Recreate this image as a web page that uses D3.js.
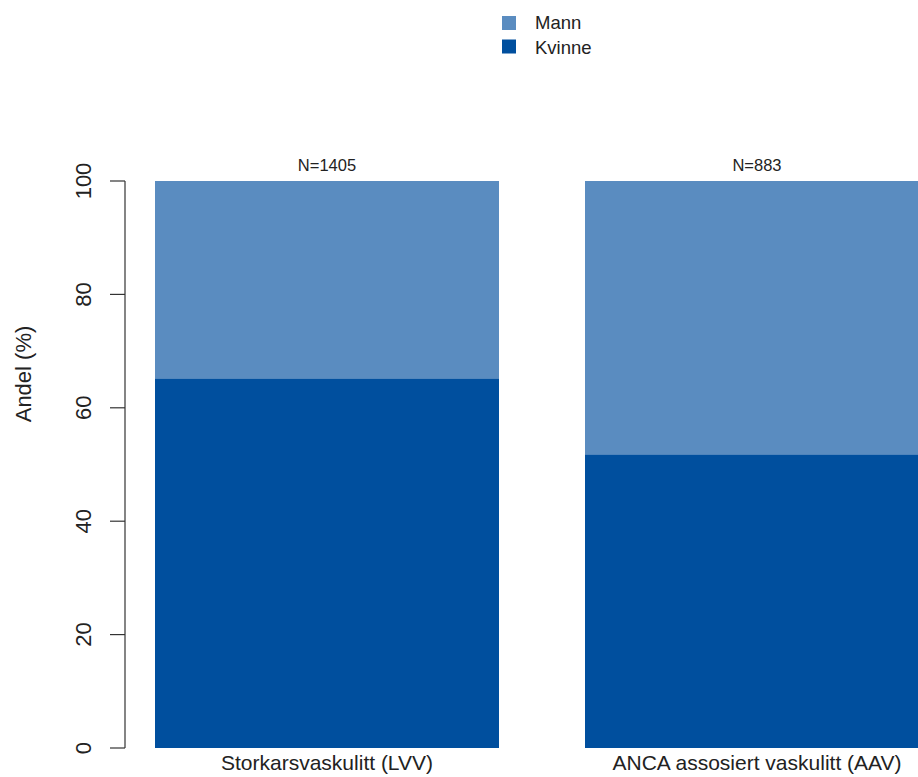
<!DOCTYPE html>
<html><head><meta charset="utf-8">
<script src="https://cdn.jsdelivr.net/npm/d3@7/dist/d3.min.js"></script>
<style>body{margin:0;background:#fff}svg{display:block;font-family:"Liberation Sans",Arial,sans-serif}</style>
</head><body>
<svg id="c" width="918" height="777"></svg>
<script>
const categories = ["Storkarsvaskulitt (LVV)", "ANCA assosiert vaskulitt (AAV)"];
const nLabels = ["N=1405", "N=883"];
const kvinne = [65.2, 51.8];
const mann = [34.8, 48.2];
const seriesNames = ["Mann", "Kvinne"];
const yTicks = [0, 20, 40, 60, 80, 100];
const colors = {Mann: "#5A8CC0", Kvinne: "#004F9E"};

const svg = d3.select("#c");
const y = d3.scaleLinear().domain([0, 100]).range([748, 181]);
const x = d3.scaleBand().domain(categories).range([155, 929]).paddingInner(0.2).paddingOuter(0);

const data = categories.map((c, i) => ({c, k: kvinne[i], m: mann[i], n: nLabels[i]}));

// bars
data.forEach(d => {
  svg.append("rect").attr("x", x(d.c)).attr("width", x.bandwidth())
    .attr("y", y(d.k)).attr("height", y(0) - y(d.k)).attr("fill", colors.Kvinne);
  svg.append("rect").attr("x", x(d.c)).attr("width", x.bandwidth())
    .attr("y", y(d.k + d.m)).attr("height", y(d.k) - y(d.k + d.m)).attr("fill", colors.Mann);
  svg.append("text").attr("x", x(d.c) + x.bandwidth() / 2).attr("y", 171)
    .attr("text-anchor", "middle").attr("font-size", 16.5).attr("fill", "#222").text(d.n);
  svg.append("text").attr("x", x(d.c) + x.bandwidth() / 2).attr("y", 770)
    .attr("text-anchor", "middle").attr("font-size", 21).attr("fill", "#222").text(d.c);
});

// y axis
const ax = svg.append("g").attr("transform", "translate(125,0)");
ax.append("line").attr("x1", 0).attr("x2", 0).attr("y1", y(0)).attr("y2", y(100)).attr("stroke", "#333").attr("stroke-width", 1.2);
yTicks.forEach(t => {
  ax.append("line").attr("x1", -15).attr("x2", 0).attr("y1", y(t)).attr("y2", y(t)).attr("stroke", "#333").attr("stroke-width", 1.2);
  ax.append("text").attr("transform", `translate(-34,${y(t)}) rotate(-90)`)
    .attr("text-anchor", "middle").attr("font-size", 22).attr("fill", "#222").text(t);
});
svg.append("text").attr("transform", "translate(31,374) rotate(-90)")
  .attr("text-anchor", "middle").attr("font-size", 22).attr("fill", "#222").text("Andel (%)");

// legend
seriesNames.forEach((s, i) => {
  svg.append("rect").attr("x", 502).attr("y", 16 + i * 23.5).attr("width", 14).attr("height", 14).attr("fill", colors[s]);
  svg.append("text").attr("x", 535).attr("y", 29 + i * 24.5).attr("font-size", 18.5).attr("fill", "#222").text(s);
});
</script>
</body></html>
